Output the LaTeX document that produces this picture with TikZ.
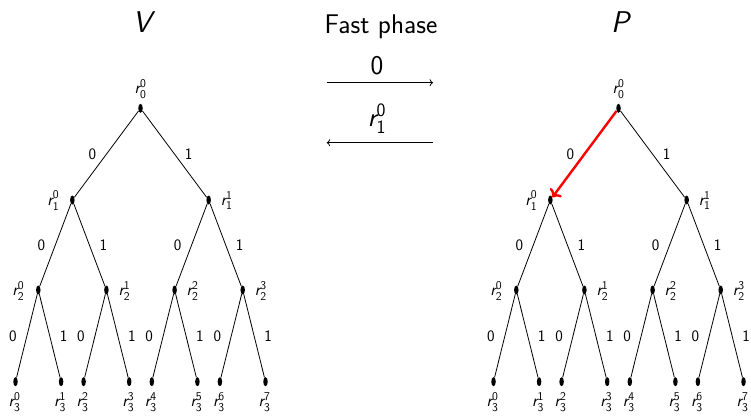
\documentclass[tikz,border=0pt]{standalone}
\usepackage{amsmath}
\usetikzlibrary{shapes.geometric,arrows.meta}
\renewcommand\familydefault{\sfdefault}
\newcommand\rlab[2]{$\text{\itshape r}^{\text{#2}}_{\text{#1}}$}
\begin{document}
\begin{tikzpicture}[x=1pt,y=-1pt,
  dot/.style={ellipse, fill=black, draw=none, minimum width=4.5pt, minimum height=9pt, inner sep=0pt},
  lab/.style={font=\fontsize{17}{20}\selectfont, inner sep=0pt},
  elab/.style={font=\fontsize{16}{19}\selectfont, inner sep=0pt, text=black},
  big/.style={font=\fontsize{27}{32}\selectfont, inner sep=0pt},
  huge/.style={font=\fontsize{30}{36}\selectfont\itshape, inner sep=0pt},
  edge/.style={line width=0.8pt, black},
  hot/.style={line width=2.4pt, red, ->},
  msg/.style={line width=0.8pt, ->}]
\useasboundingbox (0,0) rectangle (751,415);

% headings
\node[huge] (hv) at (142,22.5) {V};
\node[huge] (hp) at (620,22.5) {P};
\node[big, anchor=base] (fast) at (381,33) {Fast phase};

% message arrows
\coordinate (m1s) at (326.7,82.7);
\coordinate (m1e) at (433,82.7);
\coordinate (m2s) at (433,142.7);
\coordinate (m2e) at (326.7,142.7);
\draw[msg] (m1s) -- (m1e);
\draw[msg] (m2s) -- (m2e);
\node[big, anchor=base] (m1l) at (377,74) {0};
\node[big, anchor=base] (m2l) at (377,126) {\rlab{1}{0}};

% trees
\foreach \p/\d/\st in {L/0/edge, R/478/hot}{
  % nodes
  \node[dot] (\p-0) at (140.5+\d,108.3) {};
  \node[dot] (\p-10) at (72.35+\d,200) {};
  \node[dot] (\p-11) at (208.65+\d,200) {};
  \node[dot] (\p-20) at (38.3+\d,290) {};
  \node[dot] (\p-21) at (106.4+\d,290) {};
  \node[dot] (\p-22) at (174.6+\d,290) {};
  \node[dot] (\p-23) at (242.7+\d,290) {};
  \node[dot] (\p-30) at (15.5+\d,381.7) {};
  \node[dot] (\p-31) at (61.1+\d,381.7) {};
  \node[dot] (\p-32) at (83.6+\d,381.7) {};
  \node[dot] (\p-33) at (129.2+\d,381.7) {};
  \node[dot] (\p-34) at (151.8+\d,381.7) {};
  \node[dot] (\p-35) at (197.4+\d,381.7) {};
  \node[dot] (\p-36) at (219.9+\d,381.7) {};
  \node[dot] (\p-37) at (265.5+\d,381.7) {};
  % node labels
  \node[lab] (\p-l0) at (140.5+\d,89) {\rlab{0}{0}};
  \node[lab] (\p-l10) at (53.35+\d,200.5) {\rlab{1}{0}};
  \node[lab] (\p-l11) at (226.65+\d,200.5) {\rlab{1}{1}};
  \node[lab] (\p-l20) at (18.3+\d,291) {\rlab{2}{0}};
  \node[lab] (\p-l21) at (124.4+\d,291) {\rlab{2}{1}};
  \node[lab] (\p-l22) at (192.6+\d,291) {\rlab{2}{2}};
  \node[lab] (\p-l23) at (260.7+\d,291) {\rlab{2}{3}};
  \node[lab] (\p-l30) at (14.5+\d,402) {\rlab{3}{0}};
  \node[lab] (\p-l31) at (60.1+\d,402) {\rlab{3}{1}};
  \node[lab] (\p-l32) at (82.6+\d,402) {\rlab{3}{2}};
  \node[lab] (\p-l33) at (128.2+\d,402) {\rlab{3}{3}};
  \node[lab] (\p-l34) at (150.8+\d,402) {\rlab{3}{4}};
  \node[lab] (\p-l35) at (196.4+\d,402) {\rlab{3}{5}};
  \node[lab] (\p-l36) at (218.9+\d,402) {\rlab{3}{6}};
  \node[lab] (\p-l37) at (264.5+\d,402) {\rlab{3}{7}};
  % edges
  \draw[\st] (\p-0) -- node[elab, xshift=-14pt] (\p-e10) {0} (\p-10);
  \draw[edge] (\p-0) -- node[elab, xshift=14pt] (\p-e11) {1} (\p-11);
  \draw[edge] (\p-10) -- node[elab, xshift=-14pt] (\p-e20) {0} (\p-20);
  \draw[edge] (\p-10) -- node[elab, xshift=14pt] (\p-e21) {1} (\p-21);
  \draw[edge] (\p-11) -- node[elab, xshift=-14pt] (\p-e22) {0} (\p-22);
  \draw[edge] (\p-11) -- node[elab, xshift=14pt] (\p-e23) {1} (\p-23);
  \draw[edge] (\p-20) -- node[elab, xshift=-14pt] (\p-e30) {0} (\p-30);
  \draw[edge] (\p-20) -- node[elab, xshift=14pt] (\p-e31) {1} (\p-31);
  \draw[edge] (\p-21) -- node[elab, xshift=-14pt] (\p-e32) {0} (\p-32);
  \draw[edge] (\p-21) -- node[elab, xshift=14pt] (\p-e33) {1} (\p-33);
  \draw[edge] (\p-22) -- node[elab, xshift=-14pt] (\p-e34) {0} (\p-34);
  \draw[edge] (\p-22) -- node[elab, xshift=14pt] (\p-e35) {1} (\p-35);
  \draw[edge] (\p-23) -- node[elab, xshift=-14pt] (\p-e36) {0} (\p-36);
  \draw[edge] (\p-23) -- node[elab, xshift=14pt] (\p-e37) {1} (\p-37);
}
\end{tikzpicture}
\end{document}
